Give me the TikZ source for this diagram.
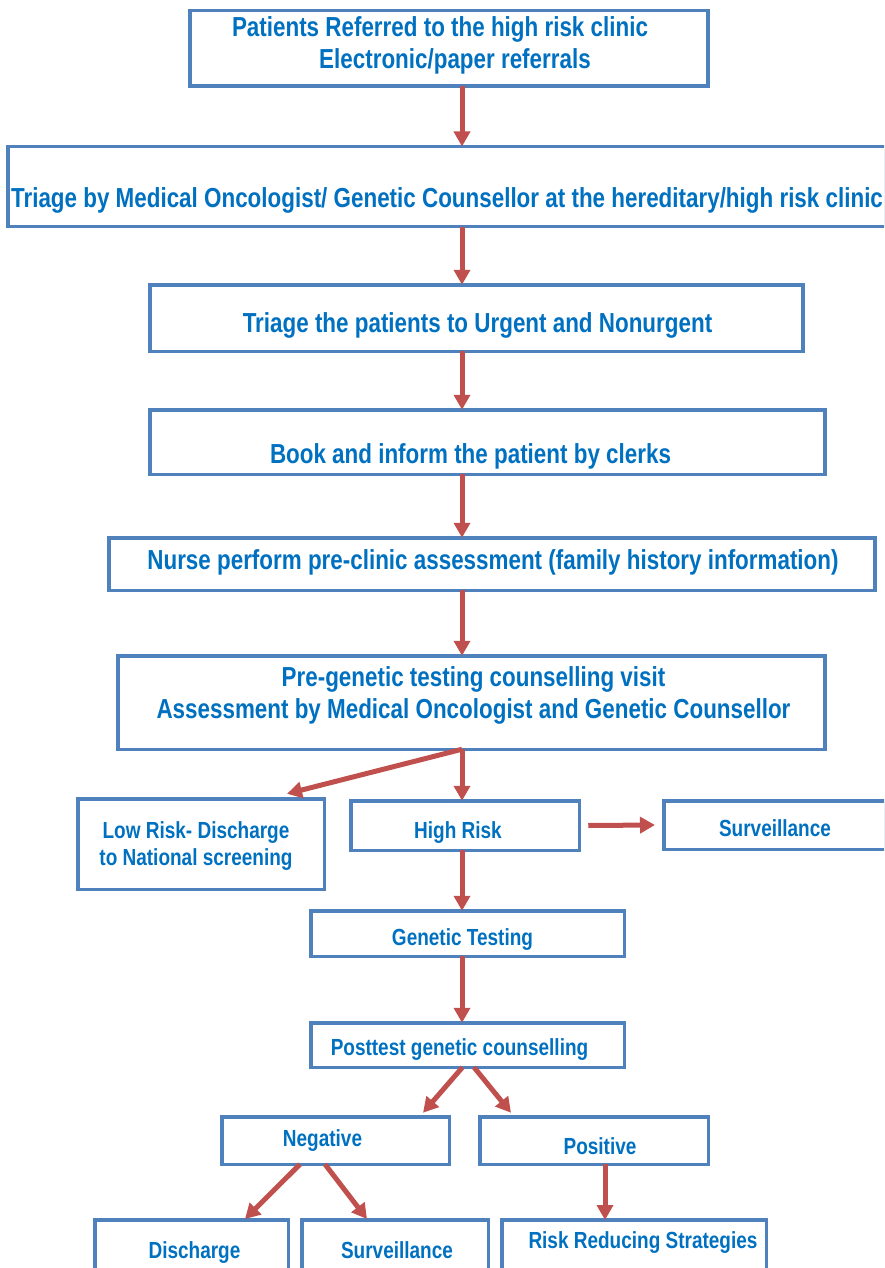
\documentclass[tikz,border=0pt]{standalone}
\usepackage{fontspec}
\setmainfont{Liberation Sans}[FakeStretch=0.815]
\usepackage{tikz}
\usetikzlibrary{arrows.meta}
\definecolor{boxblue}{HTML}{4F81BD}
\definecolor{txtblue}{HTML}{0070C0}
\definecolor{arrowred}{HTML}{C0504D}
\tikzstyle{box}=[draw=boxblue, line width=3.5pt, inner sep=0, outer sep=0]
\tikzstyle{bigtxt}=[text=txtblue, inner sep=0, align=center, font=\bfseries\fontsize{27.5}{32}\selectfont]
\tikzstyle{smalltxt}=[bigtxt, font=\bfseries\fontsize{23.3}{27}\selectfont]
\tikzstyle{flow}=[draw=arrowred, line width=5pt, -{Triangle[length=15pt, width=16pt]}]
\tikzstyle{clinicflow}=[x=1pt, y=-1pt]

\begin{document}
\begin{tikzpicture}[clinicflow]
        \path[use as bounding box, clip] (0, 0) rectangle (884, 1268);
        \coordinate (spine) at (462, 0);
        % main column
        \node[box, minimum width=518, minimum height=75.5, label={[bigtxt, yshift=3pt, xshift=-9pt]center:{Patients Referred to the high risk clinic\\\hspace*{30pt}Electronic/paper referrals}}] (ref) at (449, 48.5) {};
        \node[box, minimum width=878, minimum height=80, label={[bigtxt, yshift=-13.5pt]center:{Triage by Medical Oncologist/ Genetic Counsellor at the hereditary/high risk clinic}}] (medtriage) at (447, 186.5) {};
        \node[box, minimum width=653, minimum height=66.5, label={[bigtxt, yshift=-7pt, xshift=1pt]center:{Triage the patients to Urgent and Nonurgent}}] (urgency) at (476.5, 318) {};
        \node[box, minimum width=675, minimum height=64.5, label={[bigtxt, yshift=-14pt, xshift=-17pt]center:{Book and inform the patient by clerks}}] (book) at (487.5, 442) {};
        \node[box, minimum width=766, minimum height=52.5, label={[bigtxt, yshift=2pt, xshift=1pt]center:{Nurse perform pre-clinic assessment (family history information)}}] (nurse) at (492, 564) {};
        \node[box, minimum width=707, minimum height=93.5, label={[bigtxt, yshift=7.5pt, xshift=2pt]center:{Pre-genetic testing counselling visit\\Assessment by Medical Oncologist and Genetic Counsellor}}] (pretest) at (471.5, 702.5) {};
        % risk level
        \node[box, minimum width=246.5, minimum height=90.5, label={[smalltxt, yshift=-2pt, xshift=-5pt]center:{Low Risk- Discharge\\to National screening}}] (lowrisk) at (201, 844) {};
        \node[box, minimum width=228.5, minimum height=49.5, label={[smalltxt, yshift=-7.5pt, xshift=-7pt]center:{High Risk}}] (highrisk) at (465, 825.5) {};
        \node[box, minimum width=222, minimum height=48.5, label={[smalltxt, yshift=-3pt]center:{Surveillance}}] (surv1) at (775, 825) {};
        \node[box, minimum width=313.5, minimum height=45.5, label={[smalltxt, yshift=-6.5pt, xshift=-5pt]center:{Genetic Testing}}] (gentest) at (467.5, 933.5) {};
        \node[box, minimum width=313.5, minimum height=44.5, label={[smalltxt, yshift=-5pt, xshift=-8pt]center:{Posttest genetic counselling}}] (posttest) at (467.5, 1045) {};
        % results
        \node[box, minimum width=227.5, minimum height=47.5, label={[smalltxt, yshift=-0.5pt, xshift=-13pt]center:{Negative}}] (negative) at (335.5, 1140.5) {};
        \node[box, minimum width=228.5, minimum height=47.5, label={[smalltxt, yshift=-5.5pt, xshift=6pt]center:{Positive}}] (positive) at (594, 1140.5) {};
        \node[box, minimum width=193.5, minimum height=70, label={[smalltxt, yshift=2pt, xshift=3pt]center:{Discharge}}] (discharge) at (191.5, 1255) {};
        \node[box, minimum width=186.5, minimum height=70, label={[smalltxt, yshift=5pt, xshift=2pt]center:{Surveillance}}] (surv2) at (395, 1255) {};
        \node[box, minimum width=264.5, minimum height=70, label={[smalltxt, yshift=12pt, xshift=9pt]center:{Risk Reducing Strategies}}] (riskred) at (634, 1255) {};
        % connectors
        \draw[flow] (ref.south -| spine) -- (medtriage.north -| spine);
        \draw[flow] (medtriage.south -| spine) -- (urgency.north -| spine);
        \draw[flow] (urgency.south -| spine) -- (book.north -| spine);
        \draw[flow] (book.south -| spine) -- (nurse.north -| spine);
        \draw[flow] (nurse.south -| spine) -- (pretest.north -| spine);
        \draw[flow] (pretest.south -| spine) -- ([shift={(86, -5)}]lowrisk.north);
        \draw[flow] (pretest.south -| spine) -- (highrisk.north -| spine);
        \draw[flow] ([xshift=9pt]highrisk.east) -- ([xshift=-9pt]surv1.west);
        \draw[flow] (highrisk.south -| spine) -- (gentest.north -| spine);
        \draw[flow] (gentest.south -| spine) -- (posttest.north -| spine);
        \draw[flow] ([xshift=-5pt]posttest.south) -- ([shift={(87.5, -4)}]negative.north);
        \draw[flow] ([xshift=6.5pt]posttest.south) -- ([shift={(-83, -4)}]positive.north);
        \draw[flow] ([xshift=-35.5pt]negative.south) -- ([shift={(53.5, -1)}]discharge.north);
        \draw[flow] ([xshift=-10.5pt]negative.south) -- ([shift={(-28, -1)}]surv2.north);
        \draw[flow] ([xshift=11pt]positive.south) -- ([xshift=-29pt]riskred.north);
    \end{tikzpicture}
\end{document}
